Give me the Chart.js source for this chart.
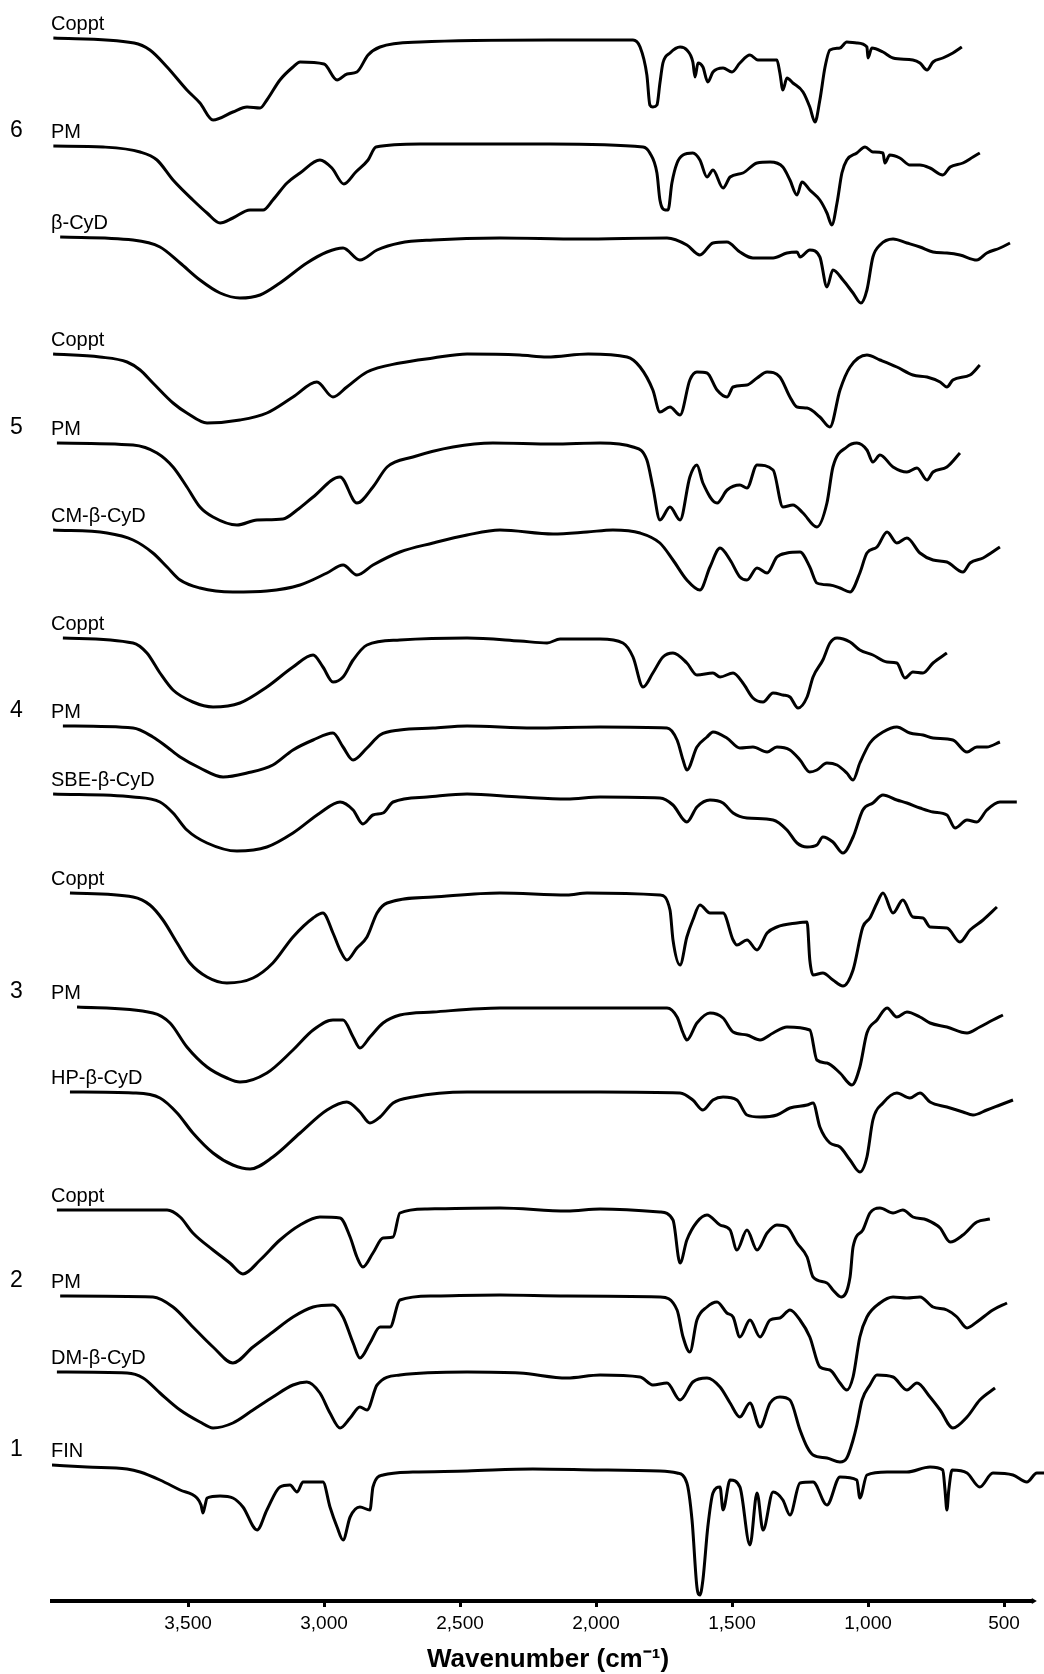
<!DOCTYPE html>
<html>
<head>
<meta charset="utf-8">
<title>FT-IR spectra</title>
<script src="https://cdn.jsdelivr.net/npm/chart.js"></script>
<style>
  html, body { margin: 0; padding: 0; background: #fff; }
  #wrap { width: 1044px; height: 1674px; }
</style>
</head>
<body>
<div id="wrap"><canvas id="irChart" width="1044" height="1674"></canvas></div>
<script>

/******************************************************************
SPECTRA DATA  (wavenumber in cm-1, transmittance in arbitrary units
relative to each trace's starting level)
******************************************************************/

// group 6 : beta-CyD
var coppt6Wn = [3995,3698,3640,3577,3504,3456,3408,3335,3283,3235,3210,3162,3114,3088,3000,2952,2915,2879,2838,2794,2647,2169,1864,1838,1813,1802,1791,1776,1765,1754,1728,1691,1666,1644,1636,1625,1607,1589,1570,1533,1500,1471,1434,1405,1335,1324,1313,1298,1276,1239,1214,1195,1177,1158,1140,1103,1078,1041,1004,1000,986,945,908,835,809,783,761,725,688,655];
var coppt6T  = [0,-5,-12,-29,-52,-65,-82,-74,-69,-70,-62,-42,-29,-24,-26,-42,-36,-34,-17,-9,-4,-2,-2,-9,-37,-67,-69,-67,-45,-25,-15,-9,-12,-24,-39,-25,-29,-44,-34,-30,-34,-25,-17,-22,-22,-35,-52,-40,-45,-54,-69,-84,-62,-29,-12,-10,-4,-5,-9,-20,-10,-14,-20,-22,-25,-32,-24,-20,-15,-9];

var pm6Wn = [3995,3812,3676,3614,3555,3482,3430,3382,3335,3272,3224,3188,3136,3088,3015,2971,2927,2883,2838,2809,2647,2169,1827,1802,1776,1765,1746,1735,1721,1702,1680,1644,1618,1592,1570,1533,1507,1460,1408,1360,1313,1287,1261,1243,1214,1177,1151,1133,1114,1096,1078,1041,1011,982,945,938,920,883,846,809,772,725,698,651,614,589];
var pm6T  = [0,-1,-6,-14,-34,-54,-67,-77,-72,-64,-64,-54,-37,-27,-14,-22,-38,-26,-14,-1,2,2,-1,-7,-27,-54,-64,-64,-37,-17,-9,-7,-14,-31,-24,-42,-31,-27,-17,-16,-21,-34,-49,-36,-44,-54,-67,-79,-57,-27,-14,-7,-1,-6,-7,-17,-9,-12,-19,-19,-22,-29,-21,-17,-11,-7];

var bcyd6Wn = [3970,3702,3603,3529,3456,3382,3309,3235,3162,3063,2989,2930,2868,2805,2721,2599,2353,2059,1739,1666,1618,1570,1519,1471,1423,1349,1298,1261,1250,1214,1177,1151,1129,1092,1055,1026,1004,982,956,908,857,809,761,710,662,600,563,515,478];
var bcyd6T  = [0,-3,-10,-26,-43,-56,-61,-58,-46,-26,-15,-11,-23,-13,-6,-3,-1,-2,-1,-8,-18,-6,-5,-15,-21,-21,-16,-15,-20,-13,-20,-50,-33,-43,-56,-66,-53,-20,-8,-2,-6,-10,-15,-16,-18,-23,-16,-11,-6];

// group 5 : CM-beta-CyD
var coppt5Wn = [3996,3824,3724,3676,3629,3555,3504,3430,3309,3210,3114,3026,2967,2916,2842,2721,2599,2474,2280,2180,2029,1886,1838,1791,1765,1728,1691,1655,1629,1592,1555,1518,1496,1445,1408,1371,1324,1287,1261,1224,1177,1140,1103,1066,1004,956,894,835,783,735,710,688,625,589];
var coppt5T  = [0,-3,-8,-16,-29,-49,-59,-69,-66,-59,-43,-28,-43,-33,-18,-9,-4,0,-1,-3,0,-3,-13,-36,-58,-53,-61,-26,-18,-19,-36,-43,-33,-31,-24,-18,-23,-43,-53,-54,-63,-73,-36,-13,-1,-6,-13,-21,-23,-28,-33,-26,-21,-11];

var pm5Wn = [3982,3702,3614,3555,3504,3456,3408,3320,3246,3151,3099,3040,2941,2879,2820,2768,2673,2526,2379,2158,1985,1864,1813,1791,1765,1728,1691,1655,1629,1607,1555,1518,1471,1445,1408,1349,1313,1276,1239,1188,1151,1129,1078,1041,1004,982,956,908,857,820,783,761,710,662];
var pm5T  = [0,-2,-10,-24,-44,-64,-74,-82,-77,-76,-67,-54,-34,-60,-44,-24,-14,-4,0,-1,0,-4,-17,-44,-77,-64,-77,-34,-22,-40,-60,-47,-42,-45,-22,-27,-64,-62,-70,-84,-60,-24,-4,0,-7,-19,-12,-24,-29,-25,-37,-29,-24,-10];

var cm5Wn = [3996,3798,3702,3629,3577,3529,3456,3335,3210,3088,2989,2930,2879,2820,2721,2599,2474,2353,2158,2033,1938,1838,1765,1717,1666,1618,1581,1544,1507,1471,1445,1408,1371,1335,1298,1250,1214,1188,1140,1103,1066,1030,1004,967,930,894,857,809,761,710,651,625,577,515];
var cm5T  = [0,-3,-10,-23,-37,-50,-58,-62,-61,-55,-43,-35,-45,-35,-22,-13,-5,0,-4,-2,0,-3,-13,-30,-50,-60,-37,-18,-30,-47,-50,-38,-43,-27,-23,-22,-37,-53,-55,-58,-62,-43,-23,-17,-2,-13,-8,-23,-30,-32,-42,-33,-28,-17];

// group 4 : SBE-beta-CyD
var coppt4Wn = [3960,3702,3651,3603,3555,3482,3408,3309,3210,3114,3040,3004,2967,2930,2893,2842,2721,2474,2280,2180,2132,1985,1901,1864,1827,1791,1754,1717,1666,1629,1570,1544,1496,1460,1423,1386,1349,1313,1287,1257,1224,1202,1166,1140,1114,1066,1030,982,930,894,864,835,798,761,710];
var coppt4T  = [0,-5,-15,-35,-52,-64,-69,-65,-49,-29,-17,-29,-44,-39,-22,-7,-2,0,-3,-5,-1,-1,-5,-19,-49,-35,-19,-15,-25,-37,-35,-39,-35,-45,-60,-64,-55,-57,-59,-70,-59,-39,-22,-5,0,-4,-12,-17,-24,-25,-40,-34,-35,-25,-15];

var pm4Wn = [3960,3702,3629,3577,3529,3456,3371,3283,3188,3114,3040,2967,2930,2893,2842,2794,2721,2599,2474,2232,1985,1739,1702,1680,1666,1629,1592,1570,1519,1471,1423,1371,1335,1287,1250,1214,1188,1151,1114,1078,1055,1030,993,945,894,846,798,761,688,636,600,563,515];
var pm4T  = [0,-2,-11,-21,-31,-42,-51,-47,-39,-24,-14,-7,-21,-34,-22,-9,-4,-2,0,-2,-1,-2,-14,-34,-44,-21,-11,-6,-12,-22,-21,-26,-21,-24,-34,-46,-44,-37,-39,-47,-54,-37,-17,-6,-1,-7,-9,-12,-14,-26,-21,-21,-16];

var sbe4Wn = [3996,3702,3603,3555,3504,3430,3320,3210,3114,3015,2941,2893,2857,2820,2783,2746,2621,2474,2280,2107,1985,1765,1717,1666,1629,1581,1533,1496,1445,1349,1298,1261,1224,1188,1166,1129,1092,1055,1019,982,945,894,857,809,761,710,680,636,600,563,515,453];
var sbe4T  = [0,-3,-8,-19,-36,-49,-57,-53,-39,-19,-8,-16,-30,-21,-19,-8,-3,0,-3,-5,-3,-4,-11,-28,-13,-6,-9,-19,-24,-26,-36,-49,-53,-51,-43,-48,-59,-43,-16,-9,-1,-6,-9,-14,-18,-21,-34,-26,-28,-16,-8,-8];

// group 3 : HP-beta-CyD
var coppt3Wn = [3934,3702,3640,3592,3540,3493,3430,3357,3261,3188,3114,3040,3004,2967,2941,2916,2879,2842,2805,2768,2599,2353,2107,2033,1765,1728,1717,1691,1666,1644,1618,1581,1533,1496,1482,1445,1408,1371,1335,1261,1224,1214,1202,1166,1129,1092,1055,1019,993,967,945,908,872,835,798,772,710,662,625,577,526];
var coppt3T  = [0,-4,-12,-27,-50,-70,-84,-90,-85,-70,-44,-25,-20,-40,-57,-67,-55,-44,-20,-10,-4,0,-2,0,-2,-17,-47,-72,-44,-27,-12,-20,-20,-47,-52,-47,-57,-40,-34,-30,-29,-67,-82,-80,-87,-93,-77,-34,-25,-10,0,-20,-7,-24,-25,-34,-35,-49,-37,-27,-14];

var pm3Wn = [3908,3629,3566,3504,3430,3357,3309,3210,3114,3040,2967,2930,2893,2868,2831,2783,2721,2599,2353,1739,1702,1680,1666,1629,1581,1533,1496,1445,1397,1349,1298,1214,1188,1151,1103,1059,1030,1004,967,930,894,857,809,772,710,636,589,541,504];
var pm3T  = [0,-6,-16,-40,-60,-71,-75,-66,-43,-23,-13,-13,-30,-41,-30,-16,-8,-5,-1,-1,-10,-26,-33,-16,-6,-11,-25,-28,-33,-26,-20,-23,-53,-56,-66,-78,-60,-26,-13,-1,-10,-5,-10,-16,-20,-26,-20,-13,-8];

var hp3Wn = [3934,3702,3603,3540,3482,3408,3335,3272,3188,3088,2989,2916,2868,2831,2794,2746,2673,2474,1985,1691,1644,1607,1570,1533,1482,1445,1397,1335,1287,1224,1202,1177,1140,1103,1066,1030,1004,982,945,894,846,809,772,710,651,614,563,515,467];
var hp3T  = [0,-1,-6,-21,-41,-61,-73,-77,-65,-41,-18,-10,-20,-31,-25,-11,-5,0,0,-1,-8,-18,-8,-5,-8,-23,-25,-23,-16,-13,-11,-35,-51,-55,-68,-80,-65,-28,-11,-1,-6,-1,-10,-15,-20,-23,-18,-13,-8];

// group 2 : DM-beta-CyD
var coppt2Wn = [3982,3577,3529,3482,3408,3346,3298,3235,3162,3088,3015,2941,2904,2879,2857,2820,2783,2746,2721,2621,2353,2107,1985,1765,1717,1691,1666,1629,1592,1544,1507,1482,1445,1408,1371,1335,1298,1261,1224,1202,1151,1129,1099,1066,1055,1019,993,956,908,872,835,783,735,698,651,600,552];
var coppt2T  = [0,0,-7,-23,-40,-53,-64,-50,-30,-15,-7,-8,-27,-47,-57,-43,-28,-27,-3,1,2,-1,1,-2,-10,-53,-30,-12,-5,-15,-20,-40,-20,-40,-23,-15,-17,-33,-47,-67,-73,-80,-87,-67,-37,-20,-3,2,-3,0,-7,-10,-18,-32,-25,-12,-9];

var pm2Wn = [3970,3629,3555,3482,3408,3335,3261,3188,3114,3040,2967,2930,2893,2868,2831,2794,2757,2721,2599,2353,2107,1765,1702,1680,1655,1629,1592,1555,1519,1496,1471,1434,1397,1360,1324,1287,1250,1214,1177,1140,1103,1078,1055,1030,1004,956,908,857,809,761,710,673,636,600,541,489];
var pm2T  = [0,-1,-11,-31,-51,-67,-51,-36,-21,-11,-9,-21,-47,-62,-47,-31,-31,-4,0,1,0,-1,-14,-41,-56,-24,-11,-6,-17,-21,-41,-24,-41,-24,-22,-14,-24,-41,-71,-74,-87,-94,-81,-41,-21,-7,-1,-2,-1,-11,-14,-21,-32,-26,-14,-7];

var dm2Wn = [3982,3724,3665,3603,3529,3456,3408,3335,3261,3188,3114,3063,3015,2978,2941,2904,2868,2842,2805,2721,2474,2280,2107,1985,1838,1791,1739,1691,1644,1592,1544,1507,1471,1434,1397,1360,1324,1287,1250,1224,1202,1151,1103,1078,1055,1041,1022,993,967,908,857,820,772,735,688,636,589,533];
var dm2T  = [0,-1,-6,-21,-38,-50,-56,-51,-38,-25,-13,-10,-21,-41,-56,-46,-35,-38,-13,-3,0,-1,-6,-3,-5,-13,-11,-28,-10,-6,-15,-31,-45,-31,-55,-31,-25,-28,-58,-75,-83,-86,-90,-86,-68,-53,-28,-13,-3,-5,-18,-11,-25,-38,-56,-45,-28,-16];

// group 1 : finasteride
var fin1Wn = [4000,3871,3724,3676,3603,3529,3467,3452,3445,3437,3430,3382,3335,3298,3246,3210,3162,3125,3099,3077,3004,2978,2952,2930,2904,2868,2831,2820,2783,2673,2474,2232,1985,1765,1702,1666,1647,1629,1618,1607,1589,1570,1544,1533,1507,1471,1434,1408,1386,1349,1313,1287,1250,1202,1151,1103,1041,1030,1004,930,857,772,725,717,710,703,691,636,589,541,467,416,379,353];
var fin1T  = [0,-2,-4,-7,-15,-25,-33,-40,-48,-40,-33,-31,-33,-42,-65,-45,-22,-20,-27,-17,-17,-42,-62,-75,-52,-42,-45,-22,-10,-7,-6,-4,-5,-6,-8,-18,-55,-122,-130,-115,-62,-28,-22,-45,-15,-22,-80,-28,-65,-27,-35,-50,-18,-17,-40,-12,-15,-33,-10,-7,-7,-2,-5,-25,-45,-25,-5,-8,-22,-8,-10,-17,-8,-8];

// trace names, stacking offsets (top to bottom) and group numbers
var traceNames = ['Coppt','PM','\u03B2-CyD','Coppt','PM','CM-\u03B2-CyD','Coppt','PM','SBE-\u03B2-CyD','Coppt','PM','HP-\u03B2-CyD','Coppt','PM','DM-\u03B2-CyD','FIN'];
var offsets = [1563,1455,1364,1247,1158,1071,963,875,807,708,594,509,391,305,229,136];
var groupNumbers = ['6','5','4','3','2','1'];
var groupRows = [1,4,7,10,13,15];
var tickValues = [3500,3000,2500,2000,1500,1000,500];
var axisEnd = 383; // wavenumber where the drawn axis line stops


/******************************************************************
BUILD DATASETS
******************************************************************/

var spectraWn = [coppt6Wn, pm6Wn, bcyd6Wn, coppt5Wn, pm5Wn, cm5Wn, coppt4Wn, pm4Wn, sbe4Wn, coppt3Wn, pm3Wn, hp3Wn, coppt2Wn, pm2Wn, dm2Wn, fin1Wn];
var spectraT  = [coppt6T, pm6T, bcyd6T, coppt5T, pm5T, cm5T, coppt4T, pm4T, sbe4T, coppt3T, pm3T, hp3T, coppt2T, pm2T, dm2T, fin1T];

var datasets = spectraWn.map(function (wn, i) {
  return {
    label: traceNames[i],
    data: wn.map(function (w, j) { return { x: w, y: offsets[i] + spectraT[i][j] }; }),
    borderColor: '#000',
    borderWidth: 3,
    borderJoinStyle: 'round',
    pointRadius: 0,
    fill: false,
    cubicInterpolationMode: 'monotone'
  };
});

var fontFamily = '"Liberation Sans", Arial, Helvetica, sans-serif';

// names over each trace, group numbers at the left, and the axis line
var traceLabels = {
  id: 'traceLabels',
  afterDatasetsDraw: function (chart) {
    var ctx = chart.ctx;
    var yScale = chart.scales.y;
    var xScale = chart.scales.x;
    var left = chart.chartArea.left - 1;
    ctx.save();
    ctx.fillStyle = '#000';
    ctx.textBaseline = 'middle';
    ctx.textAlign = 'left';
    ctx.font = '20px ' + fontFamily;
    traceNames.forEach(function (name, i) {
      ctx.fillText(name, left, yScale.getPixelForValue(offsets[i]) - 14);
    });
    ctx.font = '23px ' + fontFamily;
    groupNumbers.forEach(function (g, k) {
      ctx.fillText(g, 10, yScale.getPixelForValue(offsets[groupRows[k]]) - 15);
    });

    // axis line, ending in a small point
    var yAxis = chart.chartArea.bottom;
    var xEnd = xScale.getPixelForValue(axisEnd);
    ctx.strokeStyle = '#000';
    ctx.lineWidth = 4;
    ctx.beginPath();
    ctx.moveTo(left - 1, yAxis);
    ctx.lineTo(xEnd - 3, yAxis);
    ctx.stroke();
    ctx.beginPath();
    ctx.moveTo(xEnd - 4, yAxis - 3);
    ctx.lineTo(xEnd + 1, yAxis);
    ctx.lineTo(xEnd - 4, yAxis + 3);
    ctx.closePath();
    ctx.fill();
    ctx.restore();
  }
};


/******************************************************************
CHART
******************************************************************/

var ctx = document.getElementById('irChart').getContext('2d');

var irChart = new Chart(ctx, {
  type: 'line',
  data: { datasets: datasets },
  plugins: [traceLabels],
  options: {
    responsive: false,
    animation: false,
    layout: { padding: { left: 52, right: 0, top: 0, bottom: 0 } },
    plugins: {
      legend: { display: false },
      tooltip: { enabled: false }
    },
    scales: {
      x: {
        type: 'linear',
        reverse: true,
        min: 353,
        max: 4000,
        afterBuildTicks: function (scale) {
          scale.ticks = tickValues.map(function (v) { return { value: v }; });
        },
        afterFit: function (scale) { scale.height = 73; },
        ticks: {
          color: '#000',
          padding: 5,
          maxRotation: 0,
          autoSkip: false,
          font: { family: fontFamily, size: 19 },
          callback: function (v) { return v.toLocaleString('en-US'); }
        },
        grid: { drawOnChartArea: false, drawTicks: true, tickLength: 6, tickWidth: 3, tickColor: '#000' },
        border: { display: false },
        title: {
          display: true,
          text: 'Wavenumber (cm\u207B\u00B9)',
          color: '#000',
          font: { family: fontFamily, size: 26, weight: 'bold', lineHeight: 1 },
          padding: { top: 0, bottom: 1 }
        }
      },
      y: { display: false, min: 0, max: 1601 }
    }
  }
});

</script>
</body>
</html>
